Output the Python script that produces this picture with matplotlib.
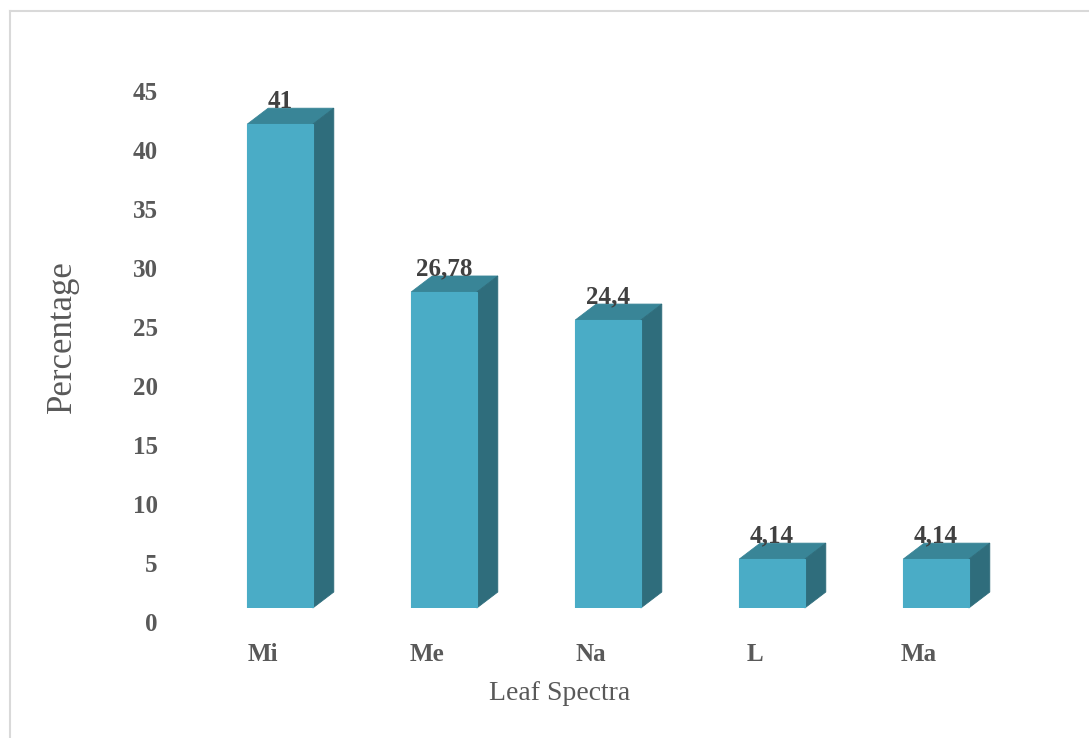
import matplotlib.pyplot as plt
import matplotlib.transforms as mtransforms
from matplotlib.patches import Polygon
from matplotlib.lines import Line2D

# --- Data ---------------------------------------------------------------
categories = ["Mi", "Me", "Na", "L", "Ma"]
values = [41, 26.78, 24.4, 4.14, 4.14]
value_labels = ["41", "26,78", "24,4", "4,14", "4,14"]
y_ticks = [0, 5, 10, 15, 20, 25, 30, 35, 40, 45]

FRONT = "#4AACC6"
TOP = "#398597"
SIDE = "#2F6D7C"
SERIF = ["Liberation Serif", "DejaVu Serif"]

W, H = 1089, 738
fig = plt.figure(figsize=(W / 100, H / 100), dpi=100)

# axes placed in pixels: baseline at y=608, 11.8 px per unit, 164 px per category
left, right = 198, 1018
base, top = 608, 608 - 45 * 11.8
ax = fig.add_axes([left / W, (H - base) / H, (right - left) / W, (base - top) / H])
ax.set_xlim(-0.5, len(categories) - 0.5)
ax.set_ylim(0, 45)
for s in ax.spines.values():
    s.set_visible(False)

# 3D depth, in data units
bw = 0.4
dx = 21 / 164
dy = 16 / 11.8

xs = list(range(len(categories)))
ax.bar(xs, values, width=bw, color=FRONT, edgecolor=FRONT, linewidth=0.8, zorder=3)
for x, v, lab in zip(xs, values, value_labels):
    x0, x1 = x - bw / 2, x + bw / 2
    ax.add_patch(Polygon([(x0, v), (x1, v), (x1 + dx, v + dy), (x0 + dx, v + dy)],
                         closed=True, facecolor=TOP, edgecolor=TOP, linewidth=0.6,
                         zorder=2, clip_on=False))
    ax.add_patch(Polygon([(x1, 0), (x1 + dx, dy), (x1 + dx, v + dy), (x1, v)],
                         closed=True, facecolor=SIDE, edgecolor=SIDE, linewidth=0.6,
                         zorder=2, clip_on=False))
    ax.text(x, v + dy + 0.05, lab, ha="center", va="baseline", fontsize=18,
            fontweight="bold", color="#404040", family=SERIF, clip_on=False)

# tick labels
ax.set_yticks(y_ticks)
ax.set_yticklabels([str(t) for t in y_ticks], fontsize=18, fontweight="bold",
                   color="#595959", family=SERIF)
ax.set_xticks(xs)
ax.set_xticklabels(categories, fontsize=18, fontweight="bold", color="#595959", family=SERIF)
ax.tick_params(axis="both", length=0)
ax.tick_params(axis="y", pad=29)
ax.tick_params(axis="x", pad=25)
ydown = mtransforms.ScaledTranslation(0, -14 / 100, fig.dpi_scale_trans)
for lab in ax.get_yticklabels():
    lab.set_transform(lab.get_transform() + ydown)
xleft = mtransforms.ScaledTranslation(-17 / 100, 0, fig.dpi_scale_trans)
for lab in ax.get_xticklabels():
    lab.set_transform(lab.get_transform() + xleft)

# axis titles
fig.text(62 / W, 1 - 337 / H, "Percentage", rotation=90, ha="center", va="center",
         fontsize=25, color="#595959", family=SERIF)
fig.text(560 / W, 1 - 694 / H, "Leaf Spectra", ha="center", va="center",
         fontsize=20, color="#595959", family=SERIF)

# chart area border (left and top visible)
fig.add_artist(Line2D([9.5 / W, 9.5 / W], [0, 1 - 10.5 / H], transform=fig.transFigure,
                      color="#D9D9D9", linewidth=1.5))
fig.add_artist(Line2D([9.5 / W, 1], [1 - 10.5 / H, 1 - 10.5 / H], transform=fig.transFigure,
                      color="#D9D9D9", linewidth=1.5))

fig.savefig("out.png", dpi=100, facecolor="white")
